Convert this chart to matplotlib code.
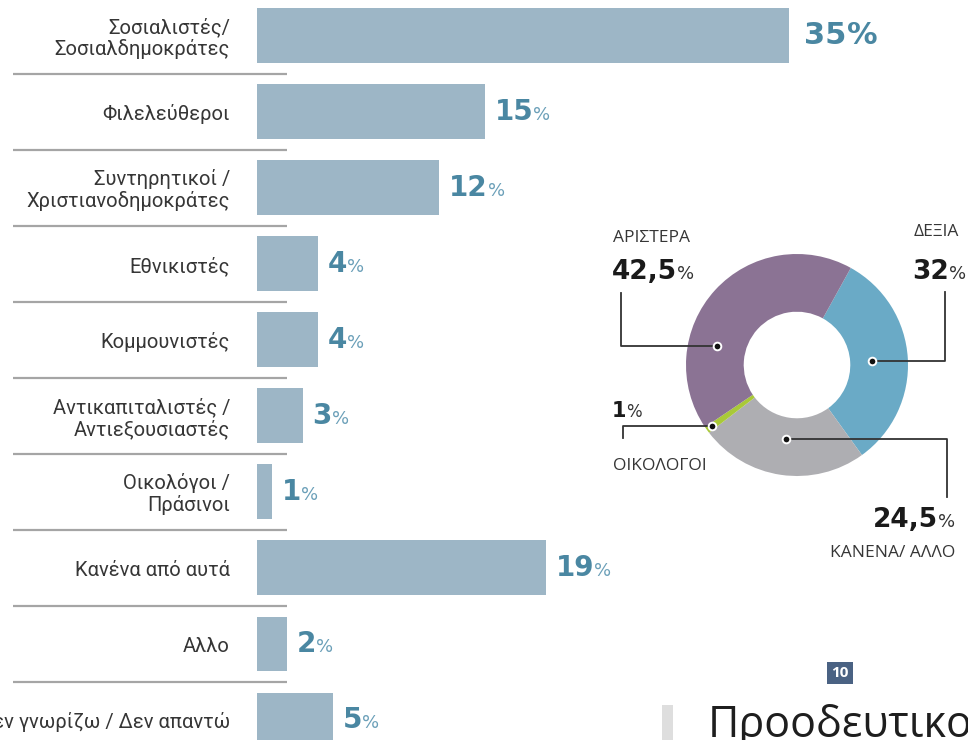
import matplotlib
matplotlib.use('Agg')
import matplotlib.pyplot as plt
from matplotlib import font_manager as fm
from matplotlib.offsetbox import TextArea, HPacker, AnnotationBbox
from matplotlib.patches import Rectangle
import numpy as np

# ---------------- data ----------------
categories = [
    "Σοσιαλιστές/\nΣοσιαλδημοκράτες",
    "Φιλελεύθεροι",
    "Συντηρητικοί /\nΧριστιανοδημοκράτες",
    "Εθνικιστές",
    "Κομμουνιστές",
    "Αντικαπιταλιστές /\nΑντιεξουσιαστές",
    "Οικολόγοι /\nΠράσινοι",
    "Κανένα από αυτά",
    "Αλλο",
    "Δεν γνωρίζω / Δεν απαντώ",
]
values = [35, 15, 12, 4, 4, 3, 1, 19, 2, 5]

donut_labels = ["ΔΕΞΙΑ", "ΚΑΝΕΝΑ/ ΑΛΛΟ", "ΟΙΚΟΛΟΓΟΙ", "ΑΡΙΣΤΕΡΑ"]
donut_values = [32, 24.5, 1, 42.5]
donut_value_text = ["32", "24,5", "1", "42,5"]

footer_number = "10"
footer_title = "Προοδευτικο"

# ---------------- fonts ----------------
names = {f.name for f in fm.fontManager.ttflist}
def pick(cands):
    for c in cands:
        if c in names:
            return c
    return 'DejaVu Sans'

LABEL_FONT = pick(['Roboto', 'Open Sans', 'Noto Sans'])
CAPS_FONT = pick(['Open Sans', 'Noto Sans', 'Roboto'])
NUM_FONT = 'DejaVu Sans'
TITLE_FONT = pick(['Open Sans', 'Noto Sans', 'Roboto'])

W, H = 968, 740
fig = plt.figure(figsize=(W / 100, H / 100), dpi=100)
fig.patch.set_facecolor('white')

BAR_COLOR = '#9db6c6'
NUM_COLOR = '#4a87a2'
PCT_COLOR = '#6a9fb8'
TEXT_COLOR = '#363636'

# ---------------- bar chart ----------------
x0_px = 257
px_per_unit = 15.2
row_px = 76.05
first_center_px = 35.5
ax = fig.add_axes([x0_px / W, 0, (W - x0_px) / W, 1])
ax.set_xlim(0, (W - x0_px) / px_per_unit)
ax.set_ylim((H - first_center_px) / row_px, -first_center_px / row_px)
ax.axis('off')

ypos = np.arange(len(categories))
ax.barh(ypos, values, height=0.72, color=BAR_COLOR, linewidth=0, zorder=2)

label_x = (230 - x0_px) / px_per_unit
for i, lab in enumerate(categories):
    ax.text(label_x, i + 0.03, lab, ha='right', va='center', fontsize=14.5,
            family=LABEL_FONT, color=TEXT_COLOR, linespacing=1.12, clip_on=False)

# separators
sep_x0 = (13 - x0_px) / px_per_unit
sep_x1 = (287 - x0_px) / px_per_unit
for i in range(len(categories) - 1):
    ax.plot([sep_x0, sep_x1], [i + 0.5, i + 0.5], color='#a5a5a5', lw=1.6,
            clip_on=False, solid_capstyle='butt', zorder=1)

def two_part(axis, main, small, xy, offset, fs_main, fs_small, c_main, c_small,
             align=(0, 0.5), weight_small='normal', sep=0):
    t1 = TextArea(main, textprops=dict(fontsize=fs_main, family=NUM_FONT,
                                       fontweight='bold', color=c_main))
    t2 = TextArea(small, textprops=dict(fontsize=fs_small, family=NUM_FONT,
                                        fontweight=weight_small, color=c_small))
    pack = HPacker(children=[t1, t2], align='baseline', pad=0, sep=sep)
    ab = AnnotationBbox(pack, xy, xybox=offset, xycoords='data',
                        boxcoords='offset points', box_alignment=align,
                        frameon=False, annotation_clip=False)
    axis.add_artist(ab)

for i, v in enumerate(values):
    if i == 0:
        two_part(ax, str(v), '%', (v, i), (11, 0), 22, 22, NUM_COLOR, NUM_COLOR,
                 weight_small='bold')
    else:
        two_part(ax, str(v), '%', (v, i), (7, 0), 20, 13, NUM_COLOR, PCT_COLOR)

# ---------------- donut ----------------
cx, cy, R = 797, 365, 111
lim = 1.2
S = 2 * lim * R
pax = fig.add_axes([(cx - S / 2) / W, (H - cy - S / 2) / H, S / W, S / H])
donut_colors = ['#6aaac6', '#aeaeb2', '#a9c938', '#8b7394']
wedges, _ = pax.pie(donut_values, startangle=61, counterclock=False,
                    colors=donut_colors, radius=1,
                    wedgeprops=dict(width=0.52, linewidth=0))
pax.set_xlim(-lim, lim)
pax.set_ylim(-lim, lim)
pax.set_aspect('equal')
pax.axis('off')

def to(px, py):
    return (px - cx) / R, (cy - py) / R

dot_frac = [0.5, 0.5, 0.5, 0.69]
dot_r = [0.68, 0.67, 0.94, 0.74]
elbow_px = [945, 946.7, 622.7, 620.7]
end_py = [292, 497, 438, 293]
for k, w in enumerate(wedges):
    ang = np.deg2rad(w.theta1 + dot_frac[k] * (w.theta2 - w.theta1))
    dx, dy = dot_r[k] * np.cos(ang), dot_r[k] * np.sin(ang)
    ex, _ = to(elbow_px[k], 0)
    _, ey = to(0, end_py[k])
    pax.plot([dx, ex, ex], [dy, dy, ey], color='#333333', lw=1.3, clip_on=False,
             zorder=3)
    pax.plot(dx, dy, 'o', ms=5.5, mfc='#111111', mec='white', mew=1.4,
             clip_on=False, zorder=4)

LBL_FS = 12.5
DARK = '#1a1a1a'
# ΔΕΞΙΑ
pax.text(*to(914, 232), donut_labels[0], ha='left', va='center', fontsize=LBL_FS,
         family=CAPS_FONT, color=TEXT_COLOR, clip_on=False)
two_part(pax, donut_value_text[0], '%', to(912, 272), (0, 0), 19, 13,
         DARK, '#333333', align=(0, 0.5))
# ΚΑΝΕΝΑ/ ΑΛΛΟ
two_part(pax, donut_value_text[1], '%', to(955, 520), (0, 0), 19, 13,
         DARK, '#333333', align=(1, 0.5))
pax.text(*to(955, 553), donut_labels[1], ha='right', va='center', fontsize=LBL_FS,
         family=CAPS_FONT, color=TEXT_COLOR, clip_on=False)
# ΟΙΚΟΛΟΓΟΙ
two_part(pax, donut_value_text[2], '%', to(612, 411), (0, 0), 15, 12,
         DARK, '#333333', align=(0, 0.5))
pax.text(*to(613, 466), donut_labels[2], ha='left', va='center', fontsize=LBL_FS,
         family=CAPS_FONT, color=TEXT_COLOR, clip_on=False)
# ΑΡΙΣΤΕΡΑ
pax.text(*to(613, 238), donut_labels[3], ha='left', va='center', fontsize=LBL_FS,
         family=CAPS_FONT, color=TEXT_COLOR, clip_on=False)
two_part(pax, donut_value_text[3], '%', to(612, 272), (0, 0), 19, 13,
         DARK, '#333333', align=(0, 0.5))

# ---------------- footer ----------------
fig.patches.append(Rectangle((662 / W, 0), 11 / W, 35 / H, transform=fig.transFigure,
                             facecolor='#dedede', edgecolor='none'))
fig.text(840 / W, 1 - 673 / H, footer_number, ha='center', va='center', fontsize=11,
         family=TITLE_FONT, fontweight='bold', color='white',
         bbox=dict(boxstyle='square,pad=0.25', facecolor='#4a6283', edgecolor='none'))
fig.text(708 / W, 1 - 737 / H, footer_title, ha='left', va='baseline', fontsize=31,
         family=TITLE_FONT, color='#1e1e1e')

fig.savefig('out.png', dpi=100, facecolor='white')
